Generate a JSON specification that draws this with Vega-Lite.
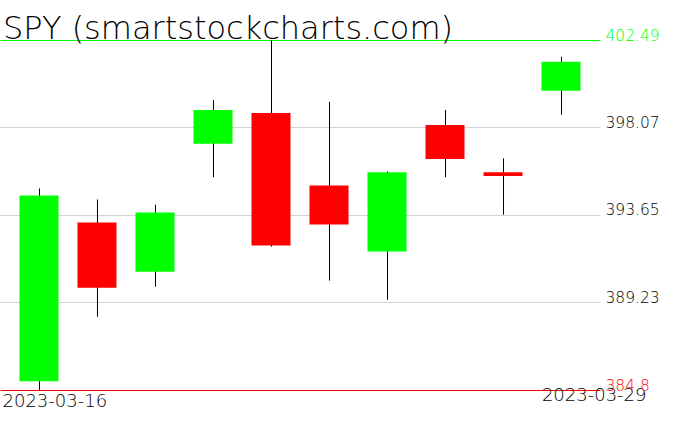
{
  "$schema": "https://vega.github.io/schema/vega-lite/v6.json",
  "width": 600,
  "height": 350,
  "autosize": "none",
  "padding": {"left": 0, "top": 40, "right": 76, "bottom": 41},
  "background": "white",
  "config": {"view": {"stroke": null}},
  "title": {
    "text": "SPY (smartstockcharts.com)",
    "anchor": "start",
    "frame": "group",
    "font": "DejaVu Sans",
    "fontSize": 32,
    "fontWeight": 200,
    "color": "black",
    "baseline": "alphabetic",
    "offset": 1,
    "dx": 3,
    "dy": 44
  },
  "data": {
    "values": [
      {"date": "2023-03-16", "open": 385.24, "high": 394.99, "low": 384.8, "close": 394.63},
      {"date": "2023-03-17", "open": 393.26, "high": 394.43, "low": 388.5, "close": 389.97},
      {"date": "2023-03-20", "open": 390.78, "high": 394.17, "low": 390.02, "close": 393.77},
      {"date": "2023-03-21", "open": 397.24, "high": 399.46, "low": 395.56, "close": 398.95},
      {"date": "2023-03-22", "open": 398.8, "high": 402.49, "low": 392.05, "close": 392.1},
      {"date": "2023-03-23", "open": 395.14, "high": 399.36, "low": 390.33, "close": 393.17},
      {"date": "2023-03-24", "open": 391.8, "high": 395.85, "low": 389.36, "close": 395.8},
      {"date": "2023-03-27", "open": 398.19, "high": 398.95, "low": 395.56, "close": 396.47},
      {"date": "2023-03-28", "open": 395.8, "high": 396.51, "low": 393.66, "close": 395.61},
      {"date": "2023-03-29", "open": 399.93, "high": 401.64, "low": 398.71, "close": 401.39}
    ]
  },
  "encoding": {
    "x": {
      "field": "date",
      "type": "ordinal",
      "sort": null,
      "scale": {"type": "point", "padding": 0.672},
      "axis": {
        "title": null,
        "ticks": false,
        "domain": false,
        "grid": false,
        "labelAngle": 0,
        "labelFont": "DejaVu Sans",
        "labelFontWeight": 200,
        "labelFontSize": 18,
        "labelColor": "black",
        "labelExpr": "datum.value == '2023-03-16' || datum.value == '2023-03-29' ? datum.label : ''",
        "labelAlign": {"condition": {"test": "datum.value == '2023-03-16'", "value": "left"}, "value": "right"},
        "labelOffset": {"condition": {"test": "datum.value == '2023-03-16'", "value": -37}, "value": 85},
        "labelPadding": {"condition": {"test": "datum.value == '2023-03-16'", "value": 16}, "value": 10},
        "labelBaseline": "alphabetic",
        "labelOverlap": false,
        "labelBound": false,
        "labelFlush": false
      }
    },
    "y": {
      "type": "quantitative",
      "scale": {"domain": [384.8, 402.49], "nice": false, "zero": false},
      "axis": {
        "title": null,
        "orient": "right",
        "values": [384.8, 389.23, 393.65, 398.07, 402.49],
        "format": ".2~f",
        "ticks": false,
        "domain": false,
        "grid": true,
        "gridWidth": 1,
        "gridColor": {"condition": [{"test": "datum.value > 402", "value": "#00ff00"}, {"test": "datum.value < 385", "value": "#ff0000"}], "value": "#d3d3d3"},
        "labelColor": {"condition": [{"test": "datum.value > 402", "value": "#00ff00"}, {"test": "datum.value < 385", "value": "#ff0000"}], "value": "black"},
        "labelFont": "DejaVu Sans",
        "labelFontWeight": 200,
        "labelFontSize": 15.5,
        "labelAlign": "left",
        "labelBaseline": "alphabetic",
        "labelPadding": 5,
        "labelOverlap": false,
        "labelBound": false,
        "labelFlush": false
      }
    }
  },
  "layer": [
    {
      "mark": {"type": "rule", "color": "black", "strokeWidth": 1, "xOffset": 0.5},
      "encoding": {
        "y": {"field": "low", "type": "quantitative"},
        "y2": {"field": "high"}
      }
    },
    {
      "mark": {"type": "bar", "size": 39},
      "encoding": {
        "y": {"field": "open", "type": "quantitative"},
        "y2": {"field": "close"},
        "color": {
          "condition": {"test": "datum.close >= datum.open", "value": "#00ff00"},
          "value": "#ff0000"
        }
      }
    }
  ]
}
